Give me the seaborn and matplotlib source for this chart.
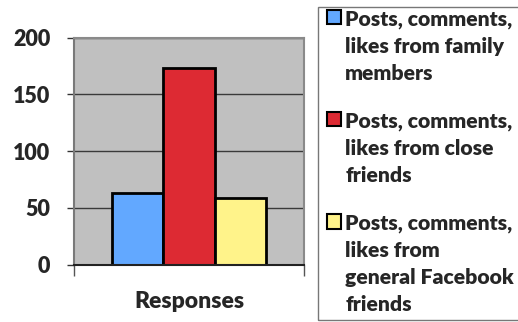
import matplotlib
matplotlib.use("Agg")
import matplotlib.pyplot as plt
from matplotlib.patches import Rectangle
import seaborn as sns
import pandas as pd

categories = ["Responses"]
series = [
    "Posts, comments,\nlikes from family\nmembers",
    "Posts, comments,\nlikes from close\nfriends",
    "Posts, comments,\nlikes from\ngeneral Facebook\nfriends",
]
values = [63, 173, 59]
colors = ["#62A8FF", "#DD2A33", "#FFF38A"]
yticks = [0, 50, 100, 150, 200]

df = pd.DataFrame({"cat": categories * len(series), "series": series, "value": values})

sns.set_theme(style="white")
plt.rcParams["font.family"] = ["Lato", "DejaVu Sans"]
plt.rcParams["font.weight"] = "heavy"

fig = plt.figure(figsize=(5.18, 3.22), dpi=100)
ax = fig.add_axes([74 / 518, 1 - 264.5 / 322, 230 / 518, 227 / 322])

sns.barplot(data=df, x="cat", y="value", hue="series", palette=colors,
            width=0.67, edgecolor="black", linewidth=2, ax=ax, legend=True,
            saturation=1)

ax.set_facecolor("#C0C0C0")
ax.set_xlim(-0.5, 0.5)
ax.set_ylim(0, 200)
ax.set_yticks(yticks)
ax.set_yticklabels([str(t) for t in yticks], fontsize=15.5, fontweight="heavy")
ax.yaxis.grid(True, color="#3a3a3a", linewidth=1)
ax.set_axisbelow(True)
ax.tick_params(axis="y", left=True, length=5, width=1, color="#333333", pad=12)
ax.set_xticks([0])
ax.set_xticklabels(["Responses"], fontsize=16.5, fontweight="heavy")
ax.tick_params(axis="x", bottom=False, pad=13)
ax.set_xlabel("")
ax.set_ylabel("")
for s in ["top", "right"]:
    ax.spines[s].set_color("#8a8a8a")
    ax.spines[s].set_linewidth(1.5)
ax.spines["left"].set_color("#7a7a7a")
ax.spines["left"].set_linewidth(1.5)
ax.spines["bottom"].set_color("#222222")
ax.spines["bottom"].set_linewidth(1.5)
ax.set_xticks([-0.5, 0.5], minor=True)
ax.tick_params(axis="x", which="minor", bottom=True, length=8, width=1, color="#555555")

handles, labels = ax.get_legend_handles_labels()
if ax.get_legend():
    ax.get_legend().remove()
leg = fig.legend(handles, labels, loc="upper left", bbox_to_anchor=(327 / 518, 1 - 10 / 322),
                 bbox_transform=fig.transFigure, frameon=False,
                 prop={"weight": "heavy", "size": 15.2},
                 handlelength=0.67, handleheight=0.67, handletextpad=0.2,
                 labelspacing=1.38, borderpad=0, borderaxespad=0)
for h in leg.legend_handles:
    h.set_linewidth(1.5)
    h.set_edgecolor("black")
for t in leg.get_texts():
    t.set_linespacing(1.5)
for col in leg._legend_handle_box.get_children():
    for item in col.get_children():
        item.align = "top"

fig.add_artist(Rectangle((318 / 518, 1 - 320 / 322), 205 / 518, 313 / 322,
                         transform=fig.transFigure, fill=False,
                         edgecolor="#777777", linewidth=1))

fig.savefig("out.png", dpi=100)
